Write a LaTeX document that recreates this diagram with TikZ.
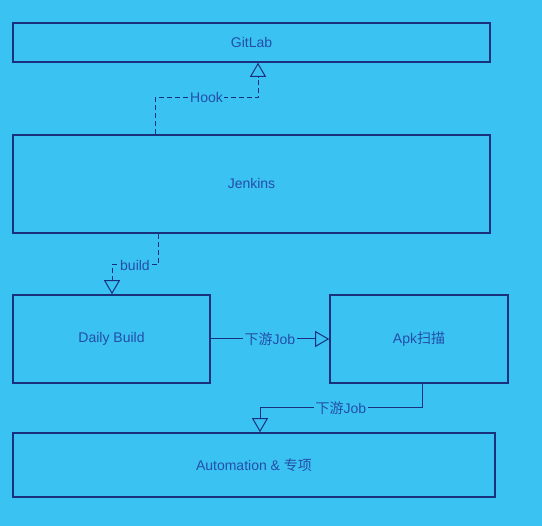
\documentclass[tikz,border=0pt]{standalone}
\usepackage{fontspec}
\setmainfont{Liberation Sans}
\newfontfamily\cjk{Noto Sans CJK SC}
\usetikzlibrary{arrows.meta}
\definecolor{bg}{RGB}{58,194,242}
\definecolor{ln}{RGB}{25,48,125}
\definecolor{tx}{RGB}{36,78,168}

\begin{document}
\begin{tikzpicture}[x=1pt,y=-1pt,
  box/.style={draw=ln,line width=1.6pt,fill=bg,text=tx,font=\fontsize{14}{16}\selectfont,inner sep=0pt},
  lbl/.style={fill=bg,text=tx,font=\fontsize{14}{16}\selectfont,inner sep=1.5pt},
  link/.style={draw=ln,line width=1pt,-{Triangle[open,length=14pt,width=16pt]}},
  dsh/.style={dash pattern=on 5pt off 3pt}]
\fill[bg](0,0)rectangle(542,526);
\node[box,minimum width=477pt,minimum height=39pt](gitlab)at(251.5,42.5){GitLab};
\node[box,minimum width=477pt,minimum height=98pt](jenkins)at(251.5,184){Jenkins};
\node[box,minimum width=197pt,minimum height=88pt](daily)at(111.5,339){Daily Build};
\node[box,minimum width=178pt,minimum height=88pt](apk)at(419,339){Apk{\cjk 扫描}};
\node[box,minimum width=482pt,minimum height=64pt](auto)at(254,465){Automation \& {\cjk 专项}};
\coordinate(hookL)at(155,98);
\coordinate(hookR)at(258,98);
\draw[link,dsh](hookL|-jenkins.north)--(hookL)--node[lbl]{Hook}(hookR)--(hookR|-gitlab.south);
\coordinate(buildR)at(158,265);
\coordinate(buildL)at(112,265);
\draw[link,dsh](buildR|-jenkins.south)--(buildR)--node[lbl]{build}(buildL)--(buildL|-daily.north);
\draw[link](daily.east)--node[lbl]{{\cjk 下游}Job}(apk.west);
\coordinate(downR)at(422,408);
\coordinate(downL)at(260,408);
\draw[link](downR|-apk.south)--(downR)--node[lbl]{{\cjk 下游}Job}(downL)--(downL|-auto.north);
\end{tikzpicture}
\end{document}
